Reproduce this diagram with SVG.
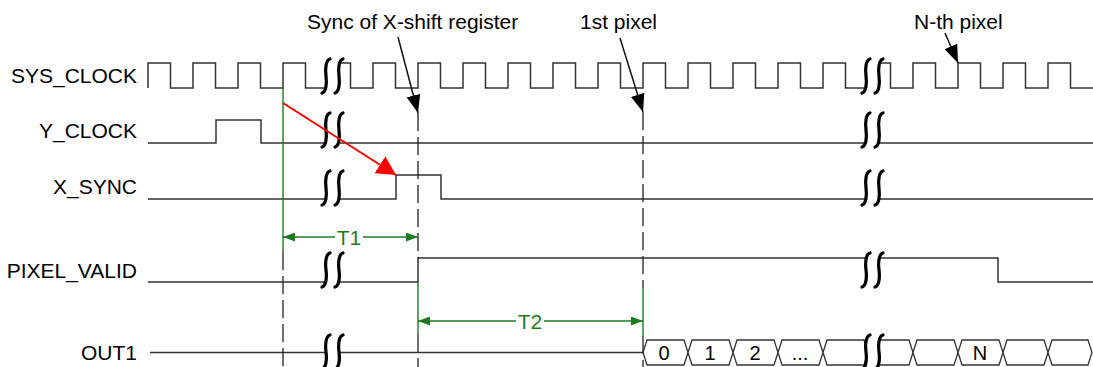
<svg xmlns="http://www.w3.org/2000/svg" width="1093" height="367" viewBox="0 0 1093 367">
<defs>
<style>
.lbl{font-family:"Liberation Sans",Arial,sans-serif;font-size:21px;fill:#000}
.sig{fill:none;stroke:#333;stroke-width:1.5}
.bus{fill:#fff;stroke:#333;stroke-width:1.3}
.dash{stroke:#222;stroke-width:1.3;stroke-dasharray:18 6;fill:none}
.gl{stroke:#1f7a1f;stroke-width:1.4;fill:none}
.gt{font-family:"Liberation Sans",Arial,sans-serif;font-size:21px;fill:#1f7a1f;text-anchor:middle}
.arw{stroke:#111;stroke-width:1.5;fill:none}
.red{stroke:#ff0000;stroke-width:2;fill:none}
.cell{font-family:"Liberation Sans",Arial,sans-serif;font-size:20px;fill:#000;text-anchor:middle}
.sq{fill:none;stroke:#000;stroke-width:3.2;stroke-linecap:round}
</style>
<marker id="ah" markerUnits="userSpaceOnUse" markerWidth="18" markerHeight="14" refX="18" refY="7" orient="auto" viewBox="0 0 18 14"><path d="M0,0 L18,7 L0,14 Z" fill="#000"/></marker>
<marker id="rh" markerUnits="userSpaceOnUse" markerWidth="19" markerHeight="20" refX="19" refY="10" orient="auto" viewBox="0 0 19 20"><path d="M0,0 L19,10 L0,20 Z" fill="#ff0000"/></marker>
<marker id="gh" markerUnits="userSpaceOnUse" markerWidth="12" markerHeight="9" refX="12" refY="4.5" orient="auto" viewBox="0 0 12 9"><path d="M0,0 L12,4.5 L0,9 Z" fill="#1f7a1f"/></marker>
<g id="brk">
<path d="M5,1 C1,2 0,10 1,18 C2,26 1,34 -3,35 L10,35 C14,34 15,26 14,18 C13,10 14,2 18,1 Z" fill="#fff"/>
<path class="sq" d="M5,1 C1,2 0,10 1,18 C2,26 1,34 -3,35 M18,1 C14,2 13,10 14,18 C15,26 14,34 10,35"/>
</g>
</defs>
<rect width="1093" height="367" fill="#fff"/>

<g id="sys_clock">
<text class="lbl" x="137" y="83" text-anchor="end">SYS_CLOCK</text>
<path class="sig" d="M148,88 V63 H170.5 V88 H193 V63 H215.5 V88 H238 V63 H260.5 V88 H283 V63 H305.5 V88 H328 V63 H350.5 V88 H373 V63 H395.5 V88 H418 V63 H440.5 V88 H463 V63 H485.5 V88 H508 V63 H530.5 V88 H553 V63 H575.5 V88 H598 V63 H620.5 V88 H643 V63 H665.5 V88 H688 V63 H710.5 V88 H733 V63 H755.5 V88 H778 V63 H800.5 V88 H823 V63 H845.5 V88 H868 V63 H890.5 V88 H913 V63 H935.5 V88 H958 V63 H980.5 V88 H1003 V63 H1025.5 V88 H1048 V63 H1070.5 V88 H1093"/>
<use href="#brk" x="325" y="58"/>
<use href="#brk" x="865" y="58"/>
</g>

<g id="y_clock">
<text class="lbl" x="137" y="138" text-anchor="end">Y_CLOCK</text>
<path class="sig" d="M148,143 H216 V120 H261 V143 H1093"/>
<use href="#brk" x="325" y="112"/>
<use href="#brk" x="865" y="112"/>
</g>

<g id="x_sync">
<text class="lbl" x="137" y="194" text-anchor="end">X_SYNC</text>
<path class="sig" d="M148,199 H396 V175 H441 V199 H1093"/>
<use href="#brk" x="325" y="170"/>
<use href="#brk" x="865" y="170"/>
</g>

<g id="pixel_valid">
<text class="lbl" x="137" y="278" text-anchor="end">PIXEL_VALID</text>
<path class="sig" d="M148,282 H418 V258 H998 V282 H1093"/>
<use href="#brk" x="325" y="252"/>
<use href="#brk" x="865" y="252"/>
</g>

<g id="out1">
<text class="lbl" x="137" y="360" text-anchor="end">OUT1</text>
<path class="sig" d="M150,352.5 H643"/>
<path class="bus" d="M643,352.5 L647,340 H684 L688,352.5 L684,365 H647 Z"/>
<path class="bus" d="M688,352.5 L692,340 H729 L733,352.5 L729,365 H692 Z"/>
<path class="bus" d="M733,352.5 L737,340 H774 L778,352.5 L774,365 H737 Z"/>
<path class="bus" d="M778,352.5 L782,340 H819 L823,352.5 L819,365 H782 Z"/>
<path class="bus" d="M823,352.5 L827,340 H864 L868,352.5 L864,365 H827 Z"/>
<path class="bus" d="M868,352.5 L872,340 H909 L913,352.5 L909,365 H872 Z"/>
<path class="bus" d="M913,352.5 L917,340 H954 L958,352.5 L954,365 H917 Z"/>
<path class="bus" d="M958,352.5 L962,340 H999 L1003,352.5 L999,365 H962 Z"/>
<path class="bus" d="M1003,352.5 L1007,340 H1044 L1048,352.5 L1044,365 H1007 Z"/>
<path class="bus" d="M1048,352.5 L1052,340 H1088 L1092,352.5 L1088,365 H1052 Z"/>
<text class="cell" x="664" y="359.5">0</text>
<text class="cell" x="710" y="359.5">1</text>
<text class="cell" x="755" y="359.5">2</text>
<text class="cell" x="800" y="359.5">...</text>
<text class="cell" x="980" y="359.5">N</text>
<use href="#brk" x="325" y="334"/>
<use href="#brk" x="865" y="334"/>
</g>

<g id="annotations">
<text class="lbl" x="307" y="29">Sync of X-shift register</text>
<text class="lbl" x="580" y="29">1st pixel</text>
<text class="lbl" x="914" y="29">N-th pixel</text>
<text class="gt" x="349" y="245">T1</text>
<text class="gt" x="530" y="329">T2</text>
</g>

<g id="connectors">
<path class="gl" d="M283,88 V252"/>
<path class="dash" d="M283,252 V367"/>
<path class="dash" d="M418,113 V258"/>
<path class="gl" d="M418,282 V334"/>
<path class="dash" d="M418,334 V367"/>
<path class="dash" d="M643,112 V288"/>
<path class="gl" d="M643,288 V336"/>
<path class="dash" d="M643,336 V367"/>
<line class="gl" x1="335" y1="237" x2="283" y2="237" marker-end="url(#gh)"/>
<line class="gl" x1="363" y1="237" x2="418" y2="237" marker-end="url(#gh)"/>
<line class="gl" x1="516" y1="321" x2="418" y2="321" marker-end="url(#gh)"/>
<line class="gl" x1="544" y1="321" x2="643" y2="321" marker-end="url(#gh)"/>
<line class="red" x1="283" y1="103" x2="396" y2="175" marker-end="url(#rh)"/>
<line class="arw" x1="398" y1="37" x2="418" y2="113" marker-end="url(#ah)"/>
<line class="arw" x1="620" y1="38" x2="643" y2="112" marker-end="url(#ah)"/>
<line class="arw" x1="945" y1="33" x2="958" y2="63" marker-end="url(#ah)"/>
</g>
</svg>
